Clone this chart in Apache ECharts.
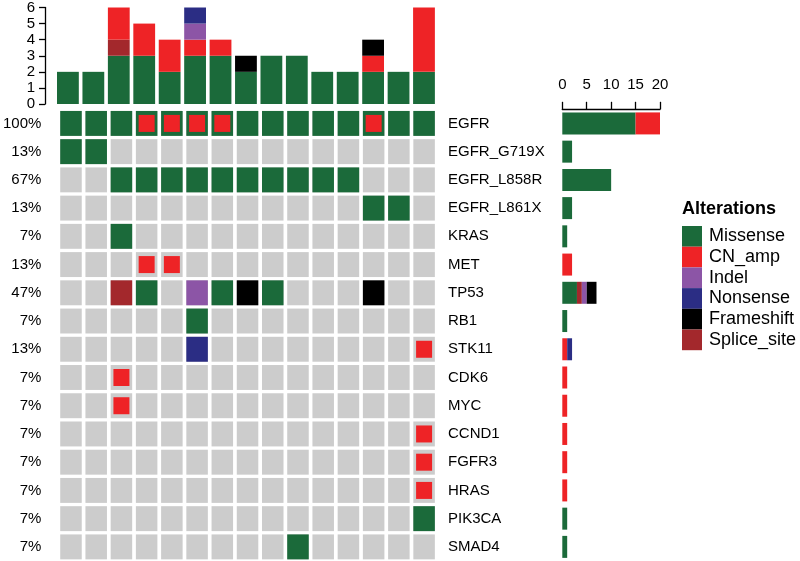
<!DOCTYPE html>
<html><head><meta charset="utf-8">
<script src="https://cdn.jsdelivr.net/npm/echarts@6/dist/echarts.min.js"></script>
<style>html,body{margin:0;padding:0;background:#fff}#c{width:800px;height:561px}</style>
</head><body><div id="c"></div>
<script>
const FONT = '"Liberation Sans", Arial, Helvetica, sans-serif';

const samples = ['S1','S2','S3','S4','S5','S6','S7','S8','S9','S10','S11','S12','S13','S14','S15'];
const genes = ['EGFR','EGFR_G719X','EGFR_L858R','EGFR_L861X','KRAS','MET','TP53','RB1','STK11','CDK6','MYC','CCND1','FGFR3','HRAS','PIK3CA','SMAD4'];
const pctLabels = ['100%','13%','67%','13%','7%','13%','47%','7%','13%','7%','7%','7%','7%','7%','7%','7%'];
const topTicks = [0, 1, 2, 3, 4, 5, 6];
const rightTicks = [0, 5, 10, 15, 20];

const codeNames = {M:'Missense', A:'CN_amp', I:'Indel', N:'Nonsense', F:'Frameshift', S:'Splice_site'};
const legendOrder = ['Missense','CN_amp','Indel','Nonsense','Frameshift','Splice_site'];
const stackOrder = ['Missense','Splice_site','CN_amp','Indel','Nonsense','Frameshift'];
const typeColors = {Missense:'#1b6a3a', CN_amp:'#ee2326', Indel:'#8c55a6', Nonsense:'#2b2d84', Frameshift:'#000000', Splice_site:'#a3282c'};
const GREY = '#cccccc';

// per gene, one entry per sample (M=Missense, A=CN_amp, I=Indel, N=Nonsense, F=Frameshift, S=Splice_site)
const EGFR       = ['M','M','M','MA','MA','MA','MA','M','M','M','M','M','MA','M','M'];
const EGFR_G719X = ['M','M','','','','','','','','','','','','',''];
const EGFR_L858R = ['','','M','M','M','M','M','M','M','M','M','M','','',''];
const EGFR_L861X = ['','','','','','','','','','','','','M','M',''];
const KRAS       = ['','','M','','','','','','','','','','','',''];
const MET        = ['','','','A','A','','','','','','','','','',''];
const TP53       = ['','','S','M','','I','M','F','M','','','','F','',''];
const RB1        = ['','','','','','M','','','','','','','','',''];
const STK11      = ['','','','','','N','','','','','','','','','A'];
const CDK6       = ['','','A','','','','','','','','','','','',''];
const MYC        = ['','','A','','','','','','','','','','','',''];
const CCND1      = ['','','','','','','','','','','','','','','A'];
const FGFR3      = ['','','','','','','','','','','','','','','A'];
const HRAS       = ['','','','','','','','','','','','','','','A'];
const PIK3CA     = ['','','','','','','','','','','','','','','M'];
const SMAD4      = ['','','','','','','','','','M','','','','',''];

const matrix = [EGFR, EGFR_G719X, EGFR_L858R, EGFR_L861X, KRAS, MET, TP53, RB1, STK11, CDK6, MYC, CCND1, FGFR3, HRAS, PIK3CA, SMAD4];

// counts per sample and per gene, by type
const colCounts = {}, geneCounts = {};
stackOrder.forEach(t => { colCounts[t] = samples.map(() => 0); geneCounts[t] = genes.map(() => 0); });
const bgCells = [], fullCells = [], ampCells = [];
matrix.forEach((row, r) => {
  row.forEach((code, c) => {
    bgCells.push([c, r, -1]);
    for (const ch of code) {
      const t = codeNames[ch];
      colCounts[t][c] += 1;
      geneCounts[t][r] += 1;
      const k = legendOrder.indexOf(t);
      if (ch === 'A') ampCells.push([c, r, k]); else fullCells.push([c, r, k]);
    }
  });
});
const cellData = bgCells.concat(fullCells, ampCells);

const GRID_LEFT = 55.2, GRID_W = 381.5;
const MAIN_TOP = 109.3, MAIN_H = 453.3;

const series = [{
  type: 'custom', name: 'cells', xAxisIndex: 1, yAxisIndex: 1,
  encode: {x: 0, y: 1}, silent: true, animation: false,
  data: cellData,
  renderItem: function (params, api) {
    const c = api.value(0), r = api.value(1), k = api.value(2);
    const p = api.coord([c, r]);
    const sz = api.size([1, 1]);
    let w = sz[0] - 3.7, h = sz[1] - 3.3;
    let fill = GREY;
    if (k >= 0) {
      fill = typeColors[legendOrder[k]];
      if (legendOrder[k] === 'CN_amp') { w = 16; h = 17; }
    }
    return {type: 'rect', shape: {x: p[0] - w / 2, y: p[1] - h / 2, width: w, height: h}, style: {fill: fill}};
  }
}];
stackOrder.forEach(t => {
  series.push({type: 'bar', name: t, xAxisIndex: 0, yAxisIndex: 0, stack: 'top', barWidth: 21.8,
    data: colCounts[t], itemStyle: {color: typeColors[t]}, silent: true});
  series.push({type: 'bar', name: t, xAxisIndex: 2, yAxisIndex: 3, stack: 'right', barWidth: 22,
    data: geneCounts[t], itemStyle: {color: typeColors[t]}, silent: true});
});

const axisLineStyle = {color: '#000', width: 1.3};
const chart = echarts.init(document.getElementById('c'), null, {renderer: 'canvas'});
chart.setOption({
  animation: false,
  backgroundColor: '#ffffff',
  textStyle: {fontFamily: FONT},
  title: {text: 'Alterations', left: 682, top: 200, padding: 0,
    textStyle: {fontFamily: FONT, fontSize: 18, fontWeight: 'bold', color: '#000'}},
  legend: {data: legendOrder, orient: 'vertical', left: 682, top: 226, padding: 0, itemGap: 0,
    itemWidth: 20, itemHeight: 20.7, icon: 'rect', selectedMode: false,
    textStyle: {fontFamily: FONT, fontSize: 18, color: '#000', padding: [0, 0, 0, 2]}},
  grid: [
    {left: GRID_LEFT, width: GRID_W, top: 6.8, height: 97.2},
    {left: GRID_LEFT, width: GRID_W, top: MAIN_TOP, height: MAIN_H},
    {left: 562.3, width: 97.7, top: MAIN_TOP, height: MAIN_H}
  ],
  xAxis: [
    {gridIndex: 0, type: 'category', data: samples, show: false},
    {gridIndex: 1, type: 'category', data: samples, show: false},
    {gridIndex: 2, type: 'value', position: 'top', min: rightTicks[0], max: rightTicks[rightTicks.length - 1], interval: 5,
      axisLine: {show: true, lineStyle: axisLineStyle},
      axisTick: {show: true, length: 7.5, lineStyle: axisLineStyle},
      axisLabel: {margin: 17, fontSize: 15, color: '#000', fontFamily: FONT},
      splitLine: {show: false}}
  ],
  yAxis: [
    {gridIndex: 0, type: 'value', min: topTicks[0], max: topTicks[topTicks.length - 1], interval: 1, offset: 10.2,
      axisLine: {show: true, lineStyle: axisLineStyle},
      axisTick: {show: true, length: 6, lineStyle: axisLineStyle},
      axisLabel: {margin: 10, fontSize: 15, color: '#000', fontFamily: FONT},
      splitLine: {show: false}},
    {gridIndex: 1, type: 'category', data: genes, inverse: true, position: 'right',
      axisLine: {show: false}, axisTick: {show: false},
      axisLabel: {margin: 11.3, fontSize: 15, color: '#000', fontFamily: FONT, interval: 0, align: 'left'}},
    {gridIndex: 1, type: 'category', data: pctLabels, inverse: true, position: 'left',
      axisLine: {show: false}, axisTick: {show: false},
      axisLabel: {margin: 17, fontSize: 15, color: '#000', fontFamily: FONT, interval: 0, align: 'right'}},
    {gridIndex: 2, type: 'category', data: genes, inverse: true, show: false}
  ],
  series: series
});
</script></body></html>
